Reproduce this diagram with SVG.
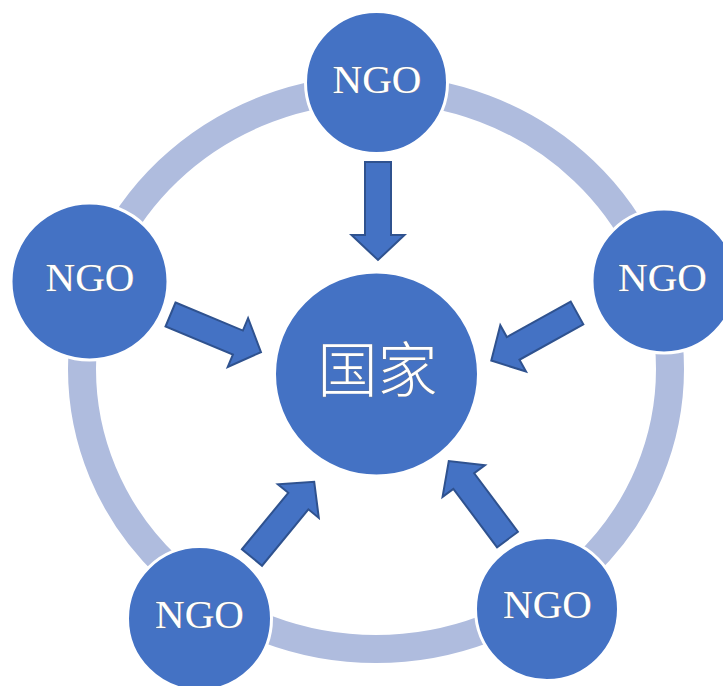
<svg xmlns="http://www.w3.org/2000/svg" xmlns:xlink="http://www.w3.org/1999/xlink" width="723" height="686" viewBox="0 0 723 686">
<style>
.ngo{fill:#4472C4;stroke:#FFFFFF;stroke-width:3}
.lbl{font-family:"Liberation Serif","Times New Roman",serif;font-size:41px;fill:#FFFFFF;stroke:#7A7A7A;stroke-width:0.7;paint-order:stroke;text-anchor:middle}
.cjk{font-family:"Noto Sans CJK SC","Noto Sans CJK JP",sans-serif;font-weight:300;font-size:60px;fill:#FFFFFF;stroke:#7A7A7A;stroke-width:0.7;paint-order:stroke;text-anchor:middle}
.arr{fill:#4472C4;stroke:#2F528F;stroke-width:2;stroke-linejoin:miter}
</style>
<defs>
<path id="blockArrow" class="arr" d="M0,-13 L73,-13 L73,-26.5 L98,0 L73,26.5 L73,13 L0,13 Z"/>
</defs>
<rect width="723" height="686" fill="#FFFFFF"/>
<g id="ring">
<ellipse cx="376" cy="369" rx="294" ry="280" fill="none" stroke="#AFBCDE" stroke-width="28"/>
</g>
<g id="node-top">
<circle class="ngo" cx="376.5" cy="82.5" r="71"/>
<text class="lbl" x="377" y="93">NGO</text>
</g>
<g id="node-left">
<circle class="ngo" cx="89.5" cy="281.5" r="78.5"/>
<text class="lbl" x="90" y="291">NGO</text>
</g>
<g id="node-right">
<circle class="ngo" cx="664" cy="281" r="72"/>
<text class="lbl" x="662.5" y="291">NGO</text>
</g>
<g id="node-bottom-left">
<circle class="ngo" cx="199.5" cy="618.5" r="72"/>
<text class="lbl" x="199.5" y="628">NGO</text>
</g>
<g id="node-bottom-right">
<circle class="ngo" cx="547" cy="609" r="71.5"/>
<text class="lbl" x="547.5" y="618">NGO</text>
</g>
<g id="node-center">
<circle class="ngo" cx="376.5" cy="374" r="102"/>
<text class="cjk" x="377.5" y="392">国家</text>
</g>
<g id="connectors">
<use xlink:href="#blockArrow" transform="translate(378,162) rotate(90)"/>
<use xlink:href="#blockArrow" transform="translate(170.5,314.5) rotate(22.6)"/>
<use xlink:href="#blockArrow" transform="translate(577,313) rotate(151)"/>
<use xlink:href="#blockArrow" transform="translate(252,557.5) rotate(-50.6)"/>
<use xlink:href="#blockArrow" transform="translate(507.5,539.5) rotate(-126.8)"/>
</g>
</svg>
